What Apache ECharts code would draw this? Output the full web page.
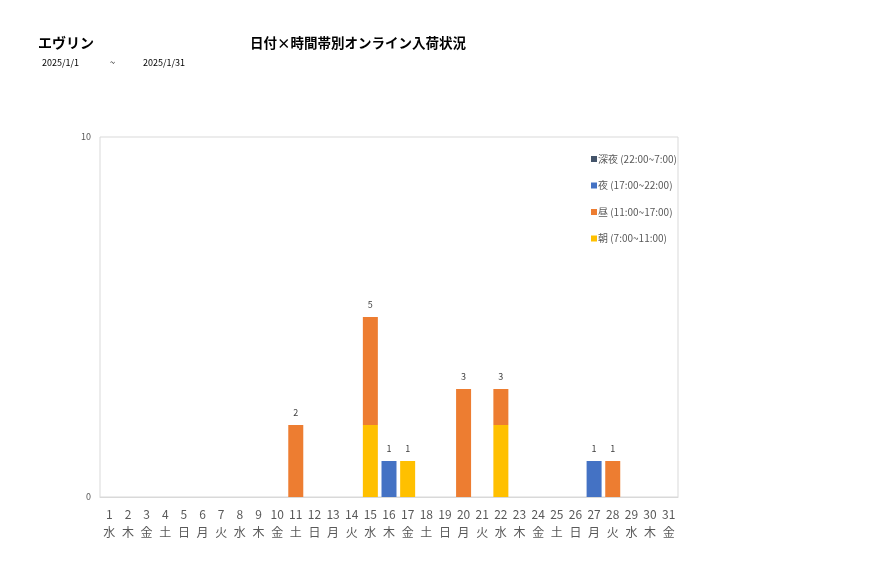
<!DOCTYPE html>
<html><head><meta charset="utf-8">
<script src="https://cdn.jsdelivr.net/npm/echarts@6/dist/echarts.min.js"></script>
<style>html,body{margin:0;padding:0;background:#fff}#c{width:877px;height:578px}</style>
</head><body><div id="c"></div>
<script>
const days = ['1','2','3','4','5','6','7','8','9','10','11','12','13','14','15','16','17','18','19','20','21','22','23','24','25','26','27','28','29','30','31'];
const weekdays = ['水','木','金','土','日','月','火','水','木','金','土','日','月','火','水','木','金','土','日','月','火','水','木','金','土','日','月','火','水','木','金'];
const asa    = [0,0,0,0,0,0,0,0,0,0,0,0,0,0,2,0,1,0,0,0,0,2,0,0,0,0,0,0,0,0,0];
const hiru   = [0,0,0,0,0,0,0,0,0,0,2,0,0,0,3,0,0,0,0,3,0,1,0,0,0,0,0,1,0,0,0];
const yoru   = [0,0,0,0,0,0,0,0,0,0,0,0,0,0,0,1,0,0,0,0,0,0,0,0,0,0,1,0,0,0,0];
const shinya = [0,0,0,0,0,0,0,0,0,0,0,0,0,0,0,0,0,0,0,0,0,0,0,0,0,0,0,0,0,0,0];
const seriesNames = ['朝 (7:00~11:00)','昼 (11:00~17:00)','夜 (17:00~22:00)','深夜 (22:00~7:00)'];
const colors = ['#FFC000','#ED7D31','#4472C4','#44546A'];
const yTicks = [0, 10];

const totals = days.map((d,i)=>asa[i]+hiru[i]+yoru[i]+shinya[i]);
const font = '"Noto Sans CJK JP", "Noto Sans", sans-serif';
const chart = echarts.init(document.getElementById('c'));
const mk = (arr)=>arr.map(v=>v===0?'-':v);
const dataSets=[asa,hiru,yoru,shinya];
const series = seriesNames.map((n,k)=>({
  name:n, type:'bar', stack:'s', barWidth:15, data:mk(dataSets[k]),
  itemStyle:{color:colors[k]}
}));
series.push({
  name:'total', type:'bar', stack:'s', barWidth:15,
  data: totals.map(t=>t>0?0:'-'),
  itemStyle:{color:'transparent'},
  label:{show:true, position:'top', distance:8, color:'#404040', fontSize:9, fontFamily:font,
    formatter:(p)=>String(totals[p.dataIndex])}
});
chart.setOption({
  animation:false,
  title:[
    {text:'エヴリン', left:33, top:31, textStyle:{fontSize:14, fontWeight:'bold', color:'#000', fontFamily:font}},
    {text:'日付×時間帯別オンライン入荷状況', left:245, top:31, textStyle:{fontSize:13.5, fontWeight:'bold', color:'#000', fontFamily:font}},
    {text:'2025/1/1', left:37, top:53, textStyle:{fontSize:9, fontWeight:'normal', color:'#000', fontFamily:font}},
    {text:'~', left:105, top:53, textStyle:{fontSize:9, fontWeight:'normal', color:'#000', fontFamily:font}},
    {text:'2025/1/31', left:138, top:53, textStyle:{fontSize:9, fontWeight:'normal', color:'#000', fontFamily:font}}
  ],
  legend:{
    data:[seriesNames[3],seriesNames[2],seriesNames[1],seriesNames[0]],
    orient:'vertical', left:586, top:149, itemGap:16.5, itemWidth:6, itemHeight:6, icon:'rect',
    textStyle:{fontSize:10, color:'#595959', fontFamily:font, padding:[0,0,0,-4]}
  },
  grid:{left:100, right:199, top:137, bottom:81, show:true, borderColor:'#d9d9d9', borderWidth:1},
  xAxis:{type:'category', data:days.map((d,i)=>d+'\n'+weekdays[i]),
    axisLine:{lineStyle:{color:'#d9d9d9'}}, axisTick:{show:false},
    axisLabel:{interval:0, color:'#595959', fontSize:12, lineHeight:18, margin:8, fontFamily:font}},
  yAxis:{type:'value', min:yTicks[0], max:yTicks[1], interval:10,
    axisLine:{show:false}, axisTick:{show:false}, splitLine:{show:false},
    axisLabel:{color:'#595959', fontSize:9, margin:9, fontFamily:font}},
  series
});
</script></body></html>
